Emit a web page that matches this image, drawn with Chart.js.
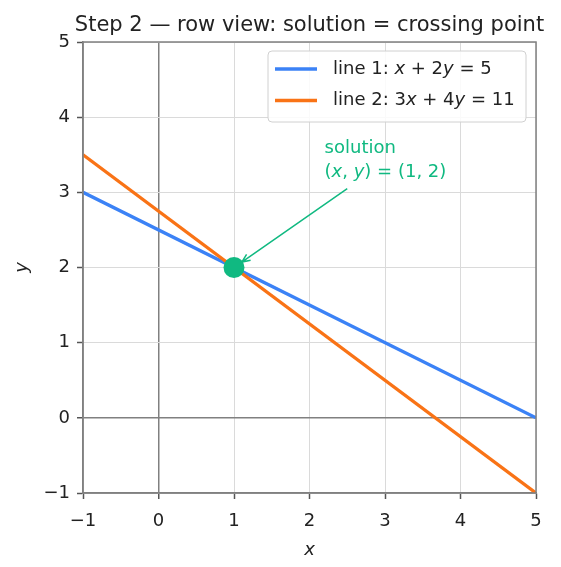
<!DOCTYPE html>
<html>
<head>
<meta charset="utf-8">
<script src="https://cdn.jsdelivr.net/npm/chart.js@4"></script>
<style>
  body { margin: 0; background: #fff; }
  canvas { display: block; }
</style>
</head>
<body>
<canvas id="rowChart" width="561" height="567"></canvas>
<script>
// Data
const lineXs = [-1, 5];
const line1Ys = [3, 0];      // x + 2y = 5
const line2Ys = [3.5, -1];   // 3x + 4y = 11
const solutionX = [1];
const solutionY = [2];
const xTickValues = [-1, 0, 1, 2, 3, 4, 5];
const yTickValues = [-1, 0, 1, 2, 3, 4, 5];

const titleText = 'Step 2 \u2014 row view: solution = crossing point';
// legend / annotation pieces: [text, italic]
const legend1 = [['line 1: ', false], ['x', true], [' + 2', false], ['y', true], [' = 5', false]];
const legend2 = [['line 2: 3', false], ['x', true], [' + 4', false], ['y', true], [' = 11', false]];
const noteLine1 = [['solution', false]];
const noteLine2 = [['(', false], ['x', true], [', ', false], ['y', true], [') = (1, 2)', false]];
const noteTextAt = [2.2, 3.2];     // data coords of annotation text
const noteArrowFrom = [2.5, 3.05]; // data coords where the arrow starts

const BLUE = '#3b82f6';
const ORANGE = '#f97316';
const GREEN = '#10b981';
const FONT = '"DejaVu Sans", sans-serif';
const TEXT = '#222222';
const SIZE = 18;

function toPoints(xs, ys) {
  return xs.map((x, i) => ({ x: x, y: ys[i] }));
}

function minusSign(v) {
  return v < 0 ? '\u2212' + Math.abs(v) : String(v);
}

// draw text with mixed upright / italic parts
function drawRich(ctx, parts, x, y) {
  let cx = x;
  parts.forEach(([text, italic]) => {
    ctx.font = (italic ? 'italic ' : '') + SIZE + 'px ' + FONT;
    ctx.fillText(text, cx, y);
    cx += ctx.measureText(text).width;
  });
}

const decorations = {
  id: 'decorations',
  afterDatasetsDraw(chart) {
    const ctx = chart.ctx;
    const area = chart.chartArea;
    const xs = chart.scales.x;
    const ys = chart.scales.y;
    ctx.save();

    // frame (top & right spines)
    ctx.strokeStyle = '#808080';
    ctx.lineWidth = 1.5;
    ctx.strokeRect(area.left, area.top, area.right - area.left, area.bottom - area.top);

    // title
    ctx.fillStyle = TEXT;
    ctx.font = '21px ' + FONT;
    ctx.textAlign = 'center';
    ctx.textBaseline = 'alphabetic';
    ctx.fillText(titleText, (area.left + area.right) / 2, 31);

    // axis titles
    ctx.font = 'italic ' + SIZE + 'px ' + FONT;
    ctx.fillText('x', (area.left + area.right) / 2, 555);
    ctx.save();
    ctx.translate(26.5, (area.top + area.bottom) / 2);
    ctx.rotate(-Math.PI / 2);
    ctx.fillText('y', 0, 0);
    ctx.restore();

    // legend box
    const bx = 268, by = 51, bw = 258, bh = 71;
    ctx.beginPath();
    ctx.roundRect(bx, by, bw, bh, 4);
    ctx.fillStyle = 'rgba(255,255,255,0.85)';
    ctx.fill();
    ctx.strokeStyle = '#d0d0d0';
    ctx.lineWidth = 1;
    ctx.stroke();
    [[BLUE, legend1, 69], [ORANGE, legend2, 100.5]].forEach(([color, parts, yy]) => {
      ctx.beginPath();
      ctx.moveTo(275, yy);
      ctx.lineTo(317, yy);
      ctx.strokeStyle = color;
      ctx.lineWidth = 3.4;
      ctx.stroke();
      ctx.fillStyle = TEXT;
      ctx.textAlign = 'left';
      ctx.textBaseline = 'middle';
      drawRich(ctx, parts, 333, yy);
    });

    // annotation text
    ctx.fillStyle = GREEN;
    ctx.textAlign = 'left';
    ctx.textBaseline = 'alphabetic';
    const tx = xs.getPixelForValue(noteTextAt[0]);
    const ty = ys.getPixelForValue(noteTextAt[1]);
    drawRich(ctx, noteLine1, tx, ty - 24);
    drawRich(ctx, noteLine2, tx, ty);

    // annotation arrow
    const sx = xs.getPixelForValue(noteArrowFrom[0]);
    const sy = ys.getPixelForValue(noteArrowFrom[1]);
    const px = xs.getPixelForValue(solutionX[0]);
    const py = ys.getPixelForValue(solutionY[0]);
    const ang = Math.atan2(py - sy, px - sx);
    const len = Math.hypot(px - sx, py - sy) - 9.5;
    const ex = sx + Math.cos(ang) * len;
    const ey = sy + Math.sin(ang) * len;
    ctx.strokeStyle = GREEN;
    ctx.lineWidth = 1.5;
    ctx.beginPath();
    ctx.moveTo(sx, sy);
    ctx.lineTo(ex, ey);
    const head = 9, spread = 0.4;
    ctx.moveTo(ex - head * Math.cos(ang - spread), ey - head * Math.sin(ang - spread));
    ctx.lineTo(ex, ey);
    ctx.lineTo(ex - head * Math.cos(ang + spread), ey - head * Math.sin(ang + spread));
    ctx.stroke();

    ctx.restore();
  }
};

const gridColor = c => (c.tick && c.tick.value === 0 ? '#808080' : '#dadada');
const gridWidth = c => (c.tick && c.tick.value === 0 ? 1.5 : 1);

const ctx = document.getElementById('rowChart').getContext('2d');
const rowChart = new Chart(ctx, {
  type: 'scatter',
  data: {
    datasets: [
      {
        label: 'line 1',
        data: toPoints(lineXs, line1Ys),
        showLine: true,
        borderColor: BLUE,
        borderWidth: 3.4,
        pointRadius: 0,
        order: 2
      },
      {
        label: 'line 2',
        data: toPoints(lineXs, line2Ys),
        showLine: true,
        borderColor: ORANGE,
        borderWidth: 3.4,
        pointRadius: 0,
        order: 1
      },
      {
        label: 'solution',
        data: toPoints(solutionX, solutionY),
        backgroundColor: GREEN,
        borderWidth: 0,
        pointRadius: 10.5,
        order: 0
      }
    ]
  },
  options: {
    responsive: false,
    animation: false,
    layout: { padding: { top: 42, right: 25, bottom: 0, left: 0 } },
    plugins: {
      legend: { display: false },
      tooltip: { enabled: false }
    },
    scales: {
      x: {
        type: 'linear',
        min: -1,
        max: 5,
        afterBuildTicks: s => { s.ticks = xTickValues.map(v => ({ value: v })); },
        afterFit: s => { s.height = 74; },
        ticks: { callback: minusSign, color: TEXT, font: { family: FONT, size: SIZE }, padding: 12, maxRotation: 0 },
        grid: { color: gridColor, lineWidth: gridWidth, tickLength: 6, tickColor: '#555', tickWidth: 1.5 },
        border: { color: '#808080', width: 1.5 }
      },
      y: {
        type: 'linear',
        min: -1,
        max: 5,
        afterBuildTicks: s => { s.ticks = yTickValues.map(v => ({ value: v })); },
        afterFit: s => { s.width = 83; },
        ticks: { callback: minusSign, color: TEXT, font: { family: FONT, size: SIZE }, padding: 7 },
        grid: { color: gridColor, lineWidth: gridWidth, tickLength: 6, tickColor: '#555', tickWidth: 1.5 },
        border: { color: '#808080', width: 1.5 }
      }
    }
  },
  plugins: [decorations]
});
</script>
</body>
</html>
